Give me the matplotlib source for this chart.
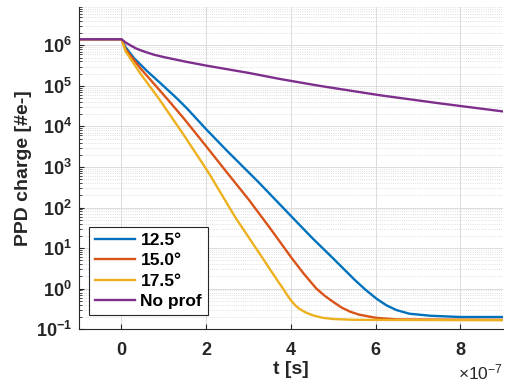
import numpy as np
import matplotlib
matplotlib.use("Agg")
import matplotlib.pyplot as plt
from matplotlib.ticker import ScalarFormatter, LogLocator, NullFormatter

plt.rcParams["font.family"] = ["Liberation Sans", "DejaVu Sans"]
plt.rcParams["mathtext.default"] = "regular"

# time in units of 1e-7 s, charge as log10(e-)
t_125 = [-1, 0, 0.1, 0.3, 0.6, 1.0, 1.31, 1.55, 2.0, 2.49, 3.23, 4.02, 4.5, 5.0, 5.25, 5.5, 5.75, 6.02, 6.25, 6.49, 6.8, 7.3, 8.0, 9.0]
q_125 = [6.15, 6.15, 5.95, 5.68, 5.37, 4.99, 4.69, 4.44, 3.93, 3.40, 2.63, 1.77, 1.25, 0.74, 0.48, 0.22, -0.02, -0.25, -0.41, -0.53, -0.62, -0.67, -0.70, -0.70]

t_150 = [-1, 0, 0.1, 0.45, 1.07, 1.47, 2.0, 2.5, 3.0, 3.5, 4.02, 4.3, 4.6, 4.8, 5.0, 5.2, 5.4, 5.6, 6.0, 6.5, 9.0]
q_150 = [6.15, 6.15, 5.9, 5.43, 4.69, 4.2, 3.51, 2.85, 2.2, 1.5, 0.75, 0.37, 0.0, -0.18, -0.33, -0.47, -0.57, -0.64, -0.72, -0.76, -0.77]

t_175 = [-1, 0, 0.1, 0.45, 0.88, 1.47, 2.0, 2.09, 2.68, 2.8, 3.3, 3.7, 3.8, 3.9, 4.0, 4.1, 4.2, 4.35, 4.52, 4.75, 5.0, 5.5, 9.0]
q_175 = [6.15, 6.15, 5.85, 5.3, 4.69, 3.79, 2.95, 2.80, 1.77, 1.58, 0.8, 0.17, 0.02, -0.14, -0.29, -0.41, -0.50, -0.59, -0.66, -0.72, -0.75, -0.77, -0.78]

t_noprof = [-1, 0, 0.1, 0.21, 0.35, 0.5, 0.76, 1.0, 1.5, 2.0, 3.0, 3.74, 4.68, 6.09, 7.5, 9.0]
q_noprof = [6.15, 6.15, 6.07, 6.0, 5.92, 5.86, 5.77, 5.71, 5.6, 5.5, 5.32, 5.17, 5.0, 4.77, 4.57, 4.37]

labels = ["12.5°", "15.0°", "17.5°", "No prof"]
colors = ["#0072BD", "#D95319", "#EDB120", "#7E2F8E"]

fig = plt.figure(figsize=(5.1, 3.9), dpi=100)
ax = fig.add_axes([0.155, 0.156, 0.831, 0.827])

series = [(t_125, q_125), (t_150, q_150), (t_175, q_175), (t_noprof, q_noprof)]
for (t, q), lab, c in zip(series, labels, colors):
    ax.plot(np.array(t) * 1e-7, 10.0 ** np.array(q), color=c, lw=1.7, label=lab)

ax.set_yscale("log")
ax.set_xlim(-1e-7, 9e-7)
ax.set_ylim(1e-1, 9e6)
ax.set_xticks(np.array([0, 2, 4, 6, 8]) * 1e-7)
ax.yaxis.set_major_locator(LogLocator(base=10, numticks=20))
ax.yaxis.set_minor_locator(LogLocator(base=10, subs=np.arange(2, 10), numticks=20))
ax.yaxis.set_minor_formatter(NullFormatter())

fmt = ScalarFormatter(useMathText=True)
fmt.set_powerlimits((-3, 3))
ax.xaxis.set_major_formatter(fmt)

ax.grid(True, which="major", color="#dcdcdc", lw=0.7)
ax.grid(True, which="minor", axis="y", color="#d4d4d4", lw=0.6, ls=":")
ax.set_axisbelow(True)

for s in ["top", "right"]:
    ax.spines[s].set_visible(False)
for s in ["left", "bottom"]:
    ax.spines[s].set_color("#262626")
    ax.spines[s].set_linewidth(0.8)

ax.tick_params(which="both", direction="in", colors="#262626", labelsize=13)
ax.tick_params(axis="x", pad=9)
ax.tick_params(axis="y", pad=5)
ax.tick_params(which="minor", length=2)
ax.tick_params(which="major", length=3.5)
for lbl in ax.get_xticklabels() + ax.get_yticklabels():
    lbl.set_fontweight("bold")
ax.xaxis.get_offset_text().set_fontsize(12.5)

ax.set_xlabel("t [s]", fontsize=14, fontweight="bold", color="#262626", labelpad=2)
ax.set_ylabel("PPD charge [#e-]", fontsize=14, fontweight="bold", color="#262626", labelpad=3)

leg = ax.legend(loc="lower left", bbox_to_anchor=(0.024, 0.043), borderaxespad=0,
                fancybox=False, framealpha=1, edgecolor="#262626",
                prop={"weight": "bold", "size": 12.5}, handlelength=2.3,
                labelspacing=0.3, handletextpad=0.3, borderpad=0.35)
leg.get_frame().set_linewidth(0.8)

fig.savefig("out.png", dpi=100)
